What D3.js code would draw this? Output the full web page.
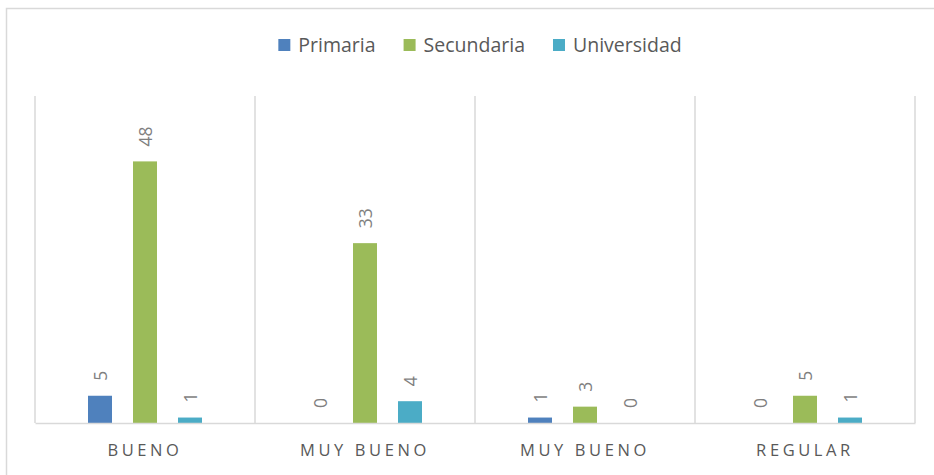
<!DOCTYPE html>
<html>
<head>
<meta charset="utf-8">
<script src="https://cdn.jsdelivr.net/npm/d3@7"></script>
<style>
  html, body { margin: 0; padding: 0; background: #fff; }
  svg { display: block; font-family: "Open Sans", "Noto Sans", sans-serif; }
</style>
</head>
<body>
<svg id="chart" width="934" height="475"></svg>
<script>
// Categories along the x axis
const categories = ["BUENO", "MUY BUENO", "MUY BUENO ", "REGULAR"];
// Series (education level) and their counts per category
const seriesNames = ["Primaria", "Secundaria", "Universidad"];
const primaria    = [5, 0, 1, 0];
const secundaria  = [48, 33, 3, 5];
const universidad = [1, 4, 0, 1];
const colors = ["#4f81bd", "#9bbb59", "#4bacc6"];

const seriesValues = [primaria, secundaria, universidad];
const rows = categories.map((c, i) => ({
  cat: c,
  values: seriesNames.map((s, j) => ({ series: s, value: seriesValues[j][i], color: colors[j] }))
}));

const svg = d3.select("#chart");
const W = 934, H = 475;
const plot = { left: 35, right: 915, top: 96, bottom: 423 };

// outer frame
svg.append("rect")
  .attr("x", 6.5).attr("y", 8.5)
  .attr("width", W + 20).attr("height", H + 20)
  .attr("fill", "#fff").attr("stroke", "#d9d9d9").attr("stroke-width", 1.5);

const x0 = d3.scaleBand().domain(categories).range([plot.left, plot.right]).padding(0);
const x1 = d3.scaleBand().domain(seriesNames).range([0, x0.bandwidth()])
  .paddingInner(0.4667).paddingOuter(1.178);
const y = d3.scaleLinear().domain([0, 60]).range([plot.bottom, plot.top]);

// category separators
const gridG = svg.append("g");
const bounds = categories.map(c => x0(c)).concat([plot.right]);
gridG.selectAll("line.sep").data(bounds).join("line")
  .attr("x1", d => d).attr("x2", d => d)
  .attr("y1", plot.top).attr("y2", plot.bottom)
  .attr("stroke", "#d9d9d9").attr("stroke-width", 1.5);

// bars
const groups = svg.append("g").selectAll("g").data(rows).join("g")
  .attr("transform", d => `translate(${x0(d.cat)},0)`);

groups.selectAll("rect").data(d => d.values).join("rect")
  .attr("x", d => x1(d.series))
  .attr("width", x1.bandwidth())
  .attr("y", d => y(d.value))
  .attr("height", d => y(0) - y(d.value))
  .attr("fill", d => d.color);

// value labels, rotated
groups.selectAll("text").data(d => d.values).join("text")
  .attr("transform", d => `translate(${x1(d.series) + x1.bandwidth() / 2},${y(d.value) - 15}) rotate(-90)`)
  .attr("text-anchor", "start")
  .attr("dominant-baseline", "central")
  .attr("font-size", 17.5)
  .attr("fill", "#7f7f7f")
  .text(d => d.value);

// x axis baseline
const xAxis = svg.append("g").attr("transform", `translate(0,${plot.bottom})`)
  .call(d3.axisBottom(x0).tickSize(0).tickPadding(21).tickFormat(d => d.trim()));
xAxis.select(".domain").attr("stroke", "#d9d9d9").attr("stroke-width", 1.5);
xAxis.selectAll("text")
  .attr("font-family", "'Open Sans', sans-serif")
  .attr("font-size", 16.5)
  .attr("fill", "#595959")
  .attr("letter-spacing", "3.6px")
  .attr("dy", "0.71em");

// legend
const legend = svg.append("g");
const items = legend.selectAll("g").data(seriesNames).join("g");
items.append("rect").attr("width", 12).attr("height", 12).attr("y", -13)
  .attr("fill", (d, i) => colors[i]);
items.append("text").attr("x", 20).attr("y", 0)
  .attr("font-size", 19.5).attr("fill", "#595959")
  .text(d => d);
let cx = 0;
const widths = [];
items.each(function () {
  widths.push(this.getBBox().width);
});
const gap = 28;
const total = d3.sum(widths) + gap * (widths.length - 1);
cx = 480 - total / 2;
items.attr("transform", (d, i) => {
  const t = `translate(${cx},52)`;
  cx += widths[i] + gap;
  return t;
});
</script>
</body>
</html>
